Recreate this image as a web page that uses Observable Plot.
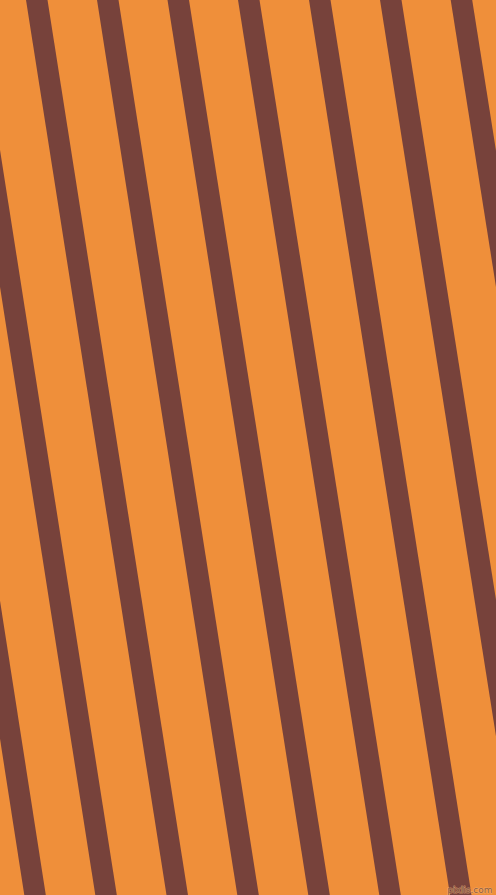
<!DOCTYPE html>
<html>
<head>
<meta charset="utf-8">
<script src="https://cdn.jsdelivr.net/npm/d3@7"></script>
<script src="https://cdn.jsdelivr.net/npm/@observablehq/plot@0.6"></script>
<style>
  html, body { margin: 0; padding: 0; background: #EF8F3A; overflow: hidden; }
  #chart svg { display: block; }
</style>
</head>
<body>
<div id="chart"></div>
<script>
// Stripe left-edge positions (px in image space) at the top (y=0) and bottom (y=895)
const stripeIds    = [0, 1, 2, 3, 4, 5, 6, 7, 8];
const stripeTop    = [-115, -45, 26, 97, 167.5, 238, 309, 380, 450.7];
const stripeBottom = [24.3, 95.3, 166.5, 237.3, 308.3, 379.3, 450, 521, 592];
const stripeWidth  = 21.5;
const yEnds = [0, 895];
const background = "#EF8F3A";
const stripeColor = "#77423B";
const watermark = ["pixlis.com"];

const W = 496, H = 895;

const rows = [];
stripeIds.forEach((id, i) => {
  rows.push({id, y: yEnds[0], x1: stripeTop[i], x2: stripeTop[i] + stripeWidth});
  rows.push({id, y: yEnds[1], x1: stripeBottom[i], x2: stripeBottom[i] + stripeWidth});
});

const chart = Plot.plot({
  width: W,
  height: H,
  margin: 0,
  style: {background: background},
  x: {domain: [0, W], range: [0, W], axis: null},
  y: {domain: [0, H], range: [0, H], axis: null},
  marks: [
    Plot.areaX(rows, {x1: "x1", x2: "x2", y: "y", z: "id", fill: stripeColor, curve: "linear"}),
    Plot.text(watermark, {
      text: d => d,
      frameAnchor: "bottom-right",
      dx: -4, dy: -3,
      fontSize: 9,
      fontFamily: "DejaVu Sans",
      fill: "#6b4236",
      fillOpacity: 0.75,
      stroke: "#f6bb80",
      strokeOpacity: 0.6,
      strokeWidth: 1.2,
      paintOrder: "stroke"
    })
  ]
});
document.getElementById("chart").appendChild(chart);
</script>
</body>
</html>
